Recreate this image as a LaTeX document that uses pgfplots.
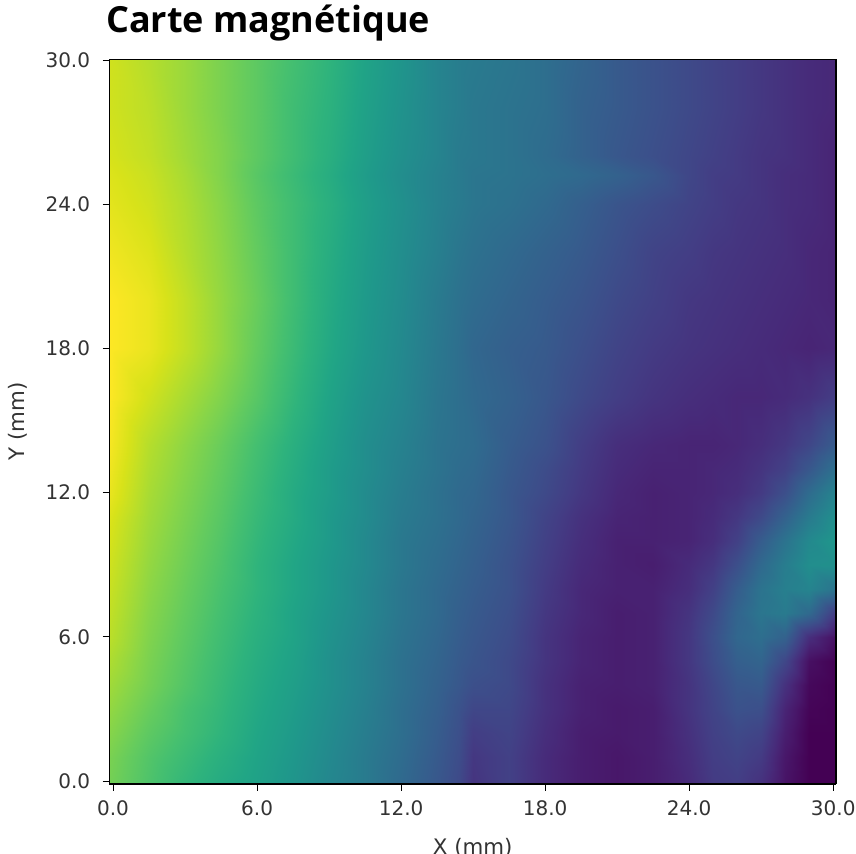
\documentclass[border=0pt]{standalone}
\usepackage{fontspec}
\setmainfont{DejaVu Sans}
\newfontfamily\titlefont{Open Sans}
\usepackage{pgfplots}
\pgfplotsset{compat=1.18}
\begin{document}
\begin{tikzpicture}
\path[use as bounding box] (0,0) rectangle (642pt,639.75pt);
\begin{axis}[
  at={(82.1pt,51.75pt)}, anchor=south west,
  scale only axis, width=545pt, height=543.5pt,
  xmin=-0.15, xmax=30.12, ymin=-0.12, ymax=30.03,
  view={0}{90}, axis on top,
  colormap/viridis, point meta min=0, point meta max=1,
  xtick={0,6,12,18,24,30}, ytick={0,6,12,18,24,30},
  tick align=outside, tick pos=left, major tick length=5pt,
  tick style={black, line width=0.7pt},
  axis line style={line width=1pt, black},
  /pgf/number format/assume math mode=true,
  /pgf/number format/fixed, /pgf/number format/fixed zerofill, /pgf/number format/precision=1,
  tick label style={font=\fontsize{15}{18}\selectfont, text=black!80},
  xticklabel style={yshift=-4pt}, yticklabel style={xshift=-6pt},
  label style={font=\fontsize{16}{19}\selectfont, text=black!80},
  xlabel={X (mm)}, ylabel={Y (mm)},
  xlabel style={yshift=-10pt}, ylabel style={yshift=7pt},
  title={\titlefont\bfseries Carte magnétique},
  title style={at={(0,1)}, anchor=base west, xshift=-6pt, yshift=14pt, font=\fontsize{27}{32}\selectfont, text=black},
]
\addplot3[surf, shader=interp, mesh/rows=24, mesh/cols=24, mesh/ordering=x varies] coordinates {
(-0.15,-0.12,.79)(1.5,-0.12,.72)(3,-0.12,.66)(4.5,-0.12,.61)(6,-0.12,.57)(7.5,-0.12,.52)(9,-0.12,.46)(10.5,-0.12,.41)(12,-0.12,.34)(13.5,-0.12,.27)(14.4,-0.12,.22)(15,-0.12,.15)(16.5,-0.12,.19)(18,-0.12,.12)(19.5,-0.12,.08)(21,-0.12,.06)(22.5,-0.12,.08)(24,-0.12,.12)(25,-0.12,.17)(26,-0.12,.18)(27,-0.12,.14)(28,-0.12,.05)(29,-0.12,0)(30.12,-0.12,0)
(-0.15,1,.80)(1.5,1,.73)(3,1,.68)(4.5,1,.63)(6,1,.58)(7.5,1,.53)(9,1,.47)(10.5,1,.41)(12,1,.35)(13.5,1,.28)(14.4,1,.23)(15,1,.16)(16.5,1,.19)(18,1,.12)(19.5,1,.08)(21,1,.06)(22.5,1,.08)(24,1,.13)(25,1,.18)(26,1,.20)(27,1,.17)(28,1,.06)(29,1,0)(30.12,1,0)
(-0.15,2,.82)(1.5,2,.75)(3,2,.70)(4.5,2,.65)(6,2,.59)(7.5,2,.54)(9,2,.48)(10.5,2,.42)(12,2,.36)(13.5,2,.29)(14.4,2,.24)(15,2,.18)(16.5,2,.20)(18,2,.13)(19.5,2,.08)(21,2,.07)(22.5,2,.08)(24,2,.14)(25,2,.19)(26,2,.22)(27,2,.20)(28,2,.08)(29,2,0)(30.12,2,0)
(-0.15,3,.84)(1.5,3,.77)(3,3,.71)(4.5,3,.66)(6,3,.60)(7.5,3,.55)(9,3,.49)(10.5,3,.43)(12,3,.36)(13.5,3,.30)(14.4,3,.25)(15,3,.21)(16.5,3,.21)(18,3,.14)(19.5,3,.09)(21,3,.07)(22.5,3,.08)(24,3,.15)(25,3,.20)(26,3,.25)(27,3,.24)(28,3,.10)(29,3,.01)(30.12,3,0)
(-0.15,4,.86)(1.5,4,.79)(3,4,.73)(4.5,4,.67)(6,4,.61)(7.5,4,.56)(9,4,.50)(10.5,4,.44)(12,4,.37)(13.5,4,.31)(14.4,4,.27)(15,4,.24)(16.5,4,.22)(18,4,.14)(19.5,4,.09)(21,4,.08)(22.5,4,.09)(24,4,.15)(25,4,.21)(26,4,.27)(27,4,.28)(28,4,.14)(29,4,.02)(30.12,4,0)
(-0.15,5,.88)(1.5,5,.80)(3,5,.74)(4.5,5,.68)(6,5,.62)(7.5,5,.57)(9,5,.50)(10.5,5,.44)(12,5,.37)(13.5,5,.32)(14.4,5,.28)(15,5,.26)(16.5,5,.22)(18,5,.15)(19.5,5,.10)(21,5,.08)(22.5,5,.09)(24,5,.16)(25,5,.23)(26,5,.30)(27,5,.32)(28,5,.21)(29,5,.04)(30.12,5,0)
(-0.15,6,.90)(1.5,6,.81)(3,6,.75)(4.5,6,.69)(6,6,.63)(7.5,6,.58)(9,6,.51)(10.5,6,.45)(12,6,.38)(13.5,6,.33)(14.4,6,.29)(15,6,.27)(16.5,6,.23)(18,6,.15)(19.5,6,.10)(21,6,.08)(22.5,6,.09)(24,6,.16)(25,6,.24)(26,6,.33)(27,6,.36)(28,6,.31)(29,6,.13)(30.12,6,.04)
(-0.15,7,.91)(1.5,7,.82)(3,7,.76)(4.5,7,.70)(6,7,.64)(7.5,7,.58)(9,7,.52)(10.5,7,.46)(12,7,.39)(13.5,7,.34)(14.4,7,.30)(15,7,.28)(16.5,7,.24)(18,7,.16)(19.5,7,.11)(21,7,.08)(22.5,7,.09)(24,7,.15)(25,7,.22)(26,7,.32)(27,7,.39)(28,7,.41)(29,7,.34)(30.12,7,.17)
(-0.15,8,.92)(1.5,8,.83)(3,8,.77)(4.5,8,.71)(6,8,.65)(7.5,8,.59)(9,8,.53)(10.5,8,.46)(12,8,.39)(13.5,8,.34)(14.4,8,.31)(15,8,.29)(16.5,8,.25)(18,8,.17)(19.5,8,.11)(21,8,.09)(22.5,8,.09)(24,8,.13)(25,8,.19)(26,8,.29)(27,8,.38)(28,8,.43)(29,8,.45)(30.12,8,.38)
(-0.15,9,.93)(1.5,9,.84)(3,9,.78)(4.5,9,.72)(6,9,.65)(7.5,9,.59)(9,9,.53)(10.5,9,.47)(12,9,.40)(13.5,9,.35)(14.4,9,.32)(15,9,.30)(16.5,9,.25)(18,9,.18)(19.5,9,.12)(21,9,.09)(22.5,9,.08)(24,9,.12)(25,9,.16)(26,9,.24)(27,9,.34)(28,9,.42)(29,9,.49)(30.12,9,.50)
(-0.15,10,.94)(1.5,10,.85)(3,10,.79)(4.5,10,.73)(6,10,.66)(7.5,10,.60)(9,10,.54)(10.5,10,.47)(12,10,.40)(13.5,10,.36)(14.4,10,.33)(15,10,.31)(16.5,10,.26)(18,10,.19)(19.5,10,.13)(21,10,.09)(22.5,10,.09)(24,10,.10)(25,10,.13)(26,10,.19)(27,10,.29)(28,10,.38)(29,10,.47)(30.12,10,.53)
(-0.15,11,.95)(1.5,11,.86)(3,11,.80)(4.5,11,.74)(6,11,.67)(7.5,11,.61)(9,11,.54)(10.5,11,.48)(12,11,.41)(13.5,11,.37)(14.4,11,.34)(15,11,.32)(16.5,11,.27)(18,11,.20)(19.5,11,.14)(21,11,.10)(22.5,11,.09)(24,11,.10)(25,11,.12)(26,11,.16)(27,11,.22)(28,11,.31)(29,11,.41)(30.12,11,.50)
(-0.15,12,.97)(1.5,12,.87)(3,12,.81)(4.5,12,.75)(6,12,.68)(7.5,12,.61)(9,12,.55)(10.5,12,.48)(12,12,.42)(13.5,12,.37)(14.4,12,.34)(15,12,.33)(16.5,12,.27)(18,12,.22)(19.5,12,.16)(21,12,.11)(22.5,12,.09)(24,12,.10)(25,12,.11)(26,12,.13)(27,12,.17)(28,12,.24)(29,12,.35)(30.12,12,.45)
(-0.15,13,.98)(1.5,13,.88)(3,13,.82)(4.5,13,.76)(6,13,.69)(7.5,13,.62)(9,13,.55)(10.5,13,.49)(12,13,.43)(13.5,13,.38)(14.4,13,.35)(15,13,.34)(16.5,13,.28)(18,13,.23)(19.5,13,.17)(21,13,.12)(22.5,13,.10)(24,13,.10)(25,13,.11)(26,13,.12)(27,13,.15)(28,13,.19)(29,13,.27)(30.12,13,.37)
(-0.15,14,.99)(1.5,14,.89)(3,14,.83)(4.5,14,.77)(6,14,.70)(7.5,14,.63)(9,14,.56)(10.5,14,.49)(12,14,.44)(13.5,14,.38)(14.4,14,.36)(15,14,.35)(16.5,14,.29)(18,14,.25)(19.5,14,.18)(21,14,.13)(22.5,14,.11)(24,14,.10)(25,14,.10)(26,14,.11)(27,14,.13)(28,14,.16)(29,14,.21)(30.12,14,.29)
(-0.15,16,1)(1.5,16,.93)(3,16,.87)(4.5,16,.81)(6,16,.74)(7.5,16,.66)(9,16,.58)(10.5,16,.51)(12,16,.46)(13.5,16,.39)(14.4,16,.36)(15,16,.34)(16.5,16,.31)(18,16,.27)(19.5,16,.22)(21,16,.18)(22.5,16,.15)(24,16,.13)(25,16,.12)(26,16,.11)(27,16,.11)(28,16,.12)(29,16,.14)(30.12,16,.18)
(-0.15,18,1)(1.5,18,.97)(3,18,.91)(4.5,18,.84)(6,18,.76)(7.5,18,.68)(9,18,.60)(10.5,18,.53)(12,18,.47)(13.5,18,.40)(14.4,18,.36)(15,18,.33)(16.5,18,.30)(18,18,.28)(19.5,18,.24)(21,18,.20)(22.5,18,.17)(24,18,.15)(25,18,.14)(26,18,.13)(27,18,.12)(28,18,.11)(29,18,.10)(30.12,18,.11)
(-0.15,20,1)(1.5,20,.97)(3,20,.91)(4.5,20,.84)(6,20,.77)(7.5,20,.69)(9,20,.61)(10.5,20,.54)(12,20,.48)(13.5,20,.41)(14.4,20,.37)(15,20,.35)(16.5,20,.32)(18,20,.29)(19.5,20,.26)(21,20,.22)(22.5,20,.19)(24,20,.16)(25,20,.15)(26,20,.14)(27,20,.13)(28,20,.12)(29,20,.11)(30.12,20,.10)
(-0.15,22,.98)(1.5,22,.95)(3,22,.89)(4.5,22,.83)(6,22,.76)(7.5,22,.69)(9,22,.62)(10.5,22,.55)(12,22,.49)(13.5,22,.43)(14.4,22,.39)(15,22,.37)(16.5,22,.34)(18,22,.31)(19.5,22,.28)(21,22,.24)(22.5,22,.20)(24,22,.18)(25,22,.16)(26,22,.15)(27,22,.14)(28,22,.13)(29,22,.11)(30.12,22,.10)
(-0.15,24,.96)(1.5,24,.93)(3,24,.88)(4.5,24,.82)(6,24,.75)(7.5,24,.69)(9,24,.63)(10.5,24,.56)(12,24,.50)(13.5,24,.44)(14.4,24,.41)(15,24,.39)(16.5,24,.37)(18,24,.34)(19.5,24,.30)(21,24,.26)(22.5,24,.23)(24,24,.20)(25,24,.18)(26,24,.16)(27,24,.15)(28,24,.13)(29,24,.12)(30.12,24,.10)
(-0.15,25.2,.95)(1.5,25.2,.92)(3,25.2,.87)(4.5,25.2,.81)(6,25.2,.74)(7.5,25.2,.68)(9,25.2,.62)(10.5,25.2,.55)(12,25.2,.49)(13.5,25.2,.44)(14.4,25.2,.41)(15,25.2,.39)(16.5,25.2,.38)(18,25.2,.36)(19.5,25.2,.34)(21,25.2,.31)(22.5,25.2,.27)(24,25.2,.21)(25,25.2,.18)(26,25.2,.17)(27,25.2,.15)(28,25.2,.13)(29,25.2,.12)(30.12,25.2,.10)
(-0.15,26,.94)(1.5,26,.91)(3,26,.86)(4.5,26,.81)(6,26,.75)(7.5,26,.69)(9,26,.63)(10.5,26,.56)(12,26,.50)(13.5,26,.45)(14.4,26,.41)(15,26,.40)(16.5,26,.38)(18,26,.35)(19.5,26,.31)(21,26,.27)(22.5,26,.24)(24,26,.21)(25,26,.19)(26,26,.17)(27,26,.15)(28,26,.14)(29,26,.12)(30.12,26,.10)
(-0.15,28,.93)(1.5,28,.90)(3,28,.85)(4.5,28,.80)(6,28,.75)(7.5,28,.69)(9,28,.64)(10.5,28,.57)(12,28,.51)(13.5,28,.45)(14.4,28,.42)(15,28,.40)(16.5,28,.38)(18,28,.36)(19.5,28,.31)(21,28,.28)(22.5,28,.25)(24,28,.22)(25,28,.20)(26,28,.18)(27,28,.16)(28,28,.14)(29,28,.12)(30.12,28,.11)
(-0.15,30.03,.93)(1.5,30.03,.89)(3,30.03,.85)(4.5,30.03,.80)(6,30.03,.75)(7.5,30.03,.70)(9,30.03,.65)(10.5,30.03,.58)(12,30.03,.52)(13.5,30.03,.45)(14.4,30.03,.42)(15,30.03,.41)(16.5,30.03,.39)(18,30.03,.36)(19.5,30.03,.32)(21,30.03,.28)(22.5,30.03,.25)(24,30.03,.22)(25,30.03,.20)(26,30.03,.18)(27,30.03,.16)(28,30.03,.14)(29,30.03,.12)(30.12,30.03,.11)
};
\end{axis}
\end{tikzpicture}
\end{document}
